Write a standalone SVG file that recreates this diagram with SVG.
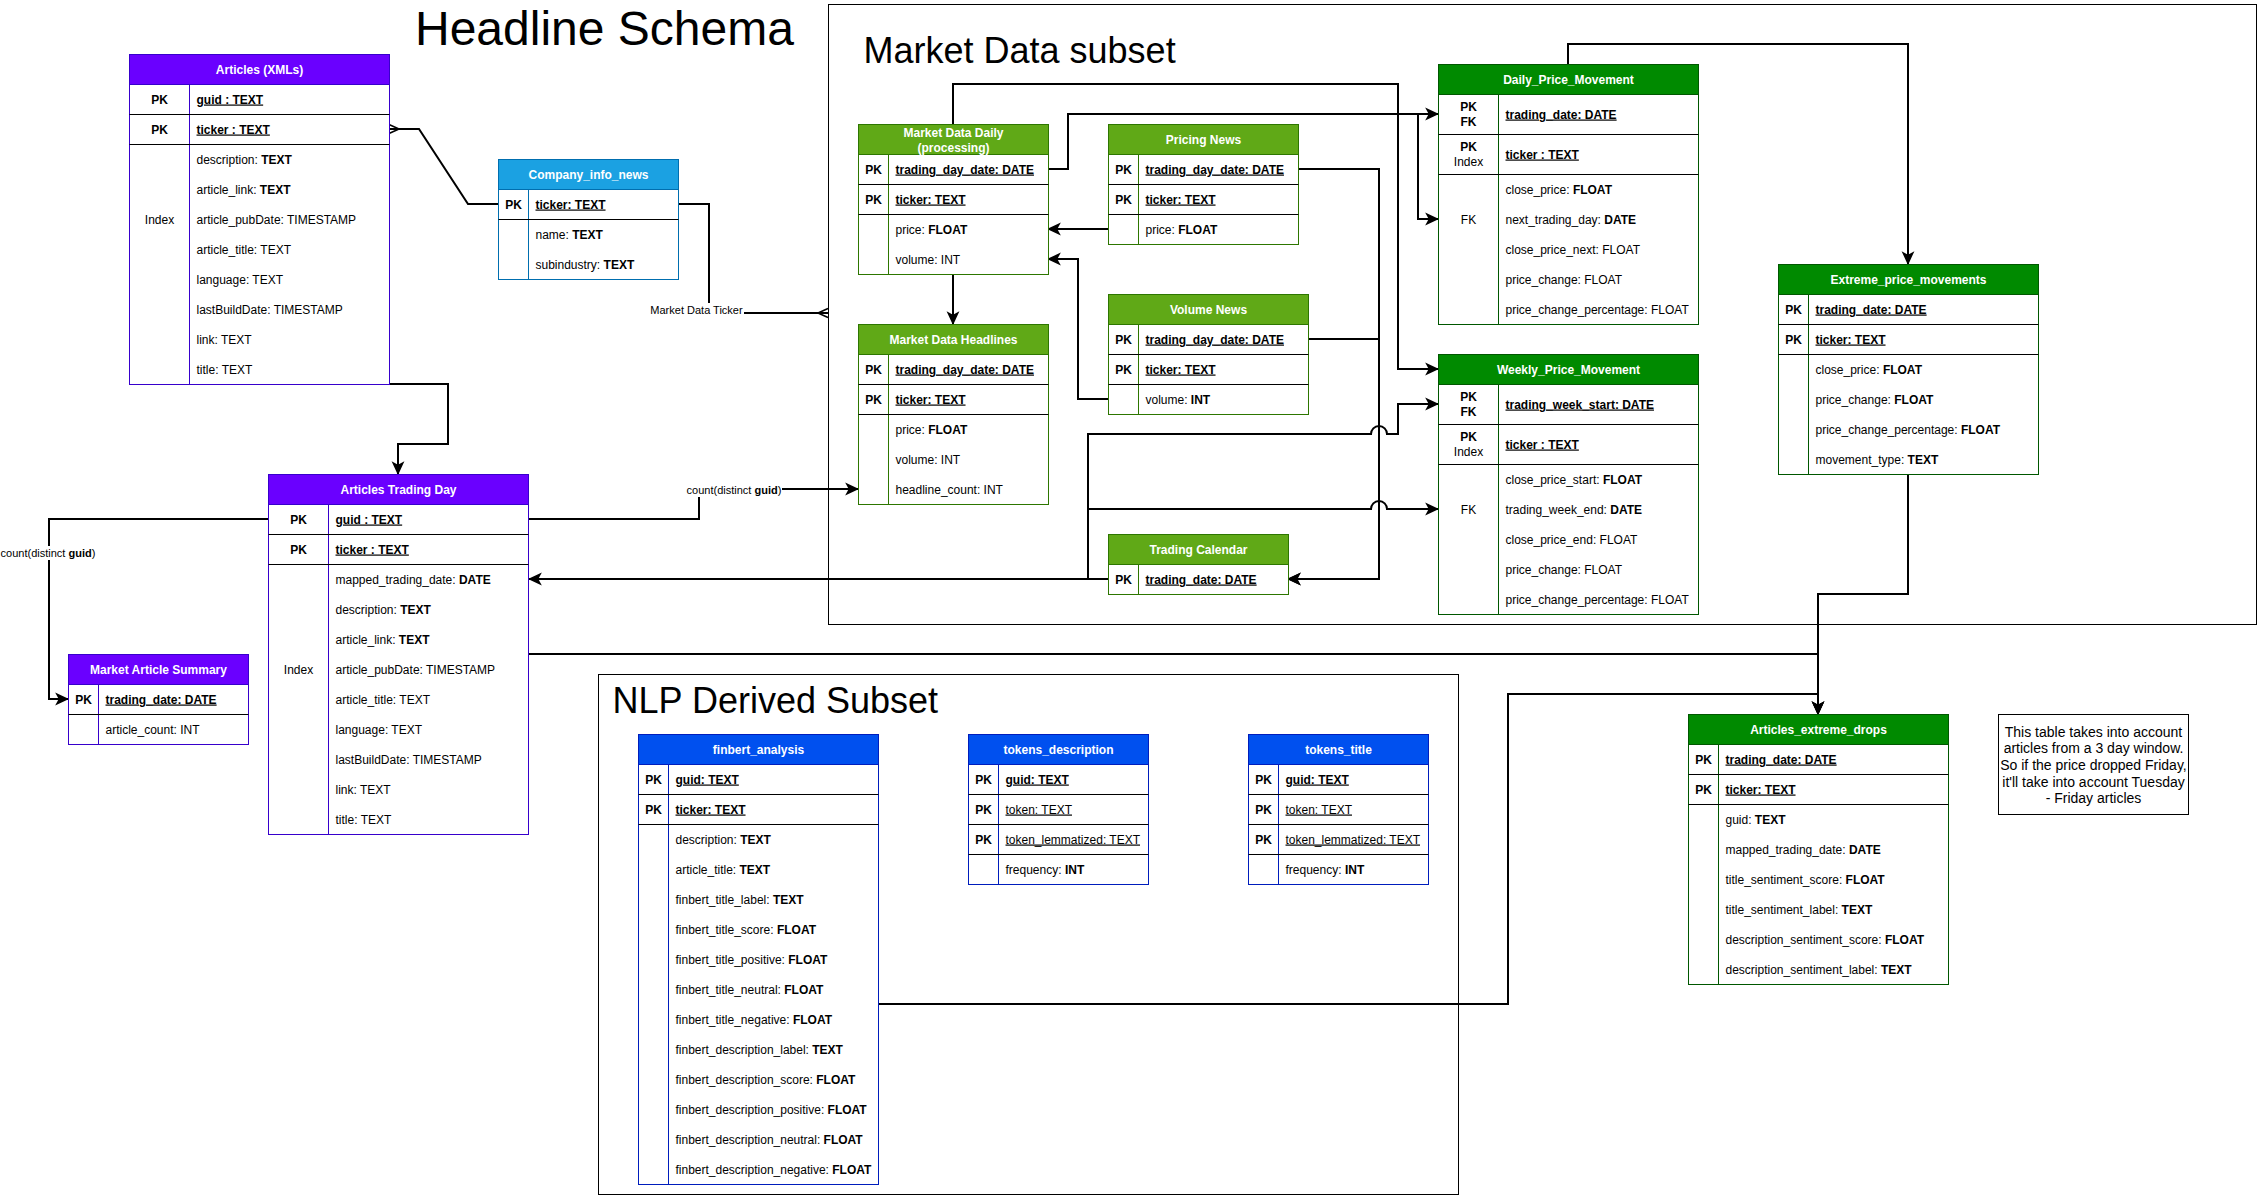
<svg xmlns="http://www.w3.org/2000/svg" width="2260" height="1195" viewBox="0 0 2260 1195" font-family="'Liberation Sans', Arial, sans-serif">
<style>
text{font-size:12px;fill:#000}
.h{font-weight:bold;fill:#fff;text-anchor:middle}
.c{text-anchor:middle}
.pk{font-weight:bold;text-decoration:underline}
.u{text-decoration:underline}
.b{font-weight:bold}
.sep{stroke:#000;stroke-width:1;fill:none}
.e{fill:none;stroke:#000;stroke-width:2}
.lbl{font-size:11px;text-anchor:middle}
.title{font-size:36px}
.note{font-size:14px;text-anchor:middle}
.box{fill:#fff}
.vi{stroke:#3700CC}
.vih{fill:#6a00ff;stroke:#3700CC}
.gr{stroke:#2D7600}
.grh{fill:#60a917;stroke:#2D7600}
.dg{stroke:#005700}
.dgh{fill:#008a00;stroke:#005700}
.bl{stroke:#001DBC}
.blh{fill:#0050ef;stroke:#001DBC}
.lb{stroke:#006EAF}
.lbh{fill:#1ba1e2;stroke:#006EAF}
.cont{fill:none;stroke:#000;stroke-width:1}
</style>
<defs>
<marker id="arr" markerUnits="userSpaceOnUse" markerWidth="14" markerHeight="14" viewBox="0 0 12 12" refX="11" refY="6" orient="auto"><path d="M0,0.5 L12,6 L0,11.5 L3,6 Z" fill="#000"/></marker>
<marker id="many" markerUnits="userSpaceOnUse" markerWidth="12" markerHeight="12" viewBox="0 0 10 12" refX="10" refY="6" orient="auto"><path d="M0,6 L10,1.5 M0,6 L10,10.5 M0,6 H10" fill="none" stroke="#000" stroke-width="1.5"/></marker>
</defs>
<rect width="2260" height="1195" fill="#fff"/>

<g id="titles">
<text x="415" y="45" style="font-size:48px">Headline Schema</text>
</g>

<g id="containers" transform="translate(0.5 0.5)">
<g id="market-data-subset"><rect class="cont" x="828" y="4" width="1428" height="620"/><text class="title" x="863" y="62">Market Data subset</text></g>
<g id="nlp-derived-subset"><rect class="cont" x="598" y="674" width="860" height="520"/><text class="title" x="612" y="712">NLP Derived Subset</text></g>
</g>

<g id="connectors">
<path id="e1" class="e" d="M498,204 H468 L419,129 H389" marker-end="url(#many)"/>
<path id="e2" class="e" d="M678,204 H709 V313 H828" marker-end="url(#many)"/>
<path id="e3" class="e" d="M389,384 H448 V444 H398 V474" marker-end="url(#arr)"/>
<path id="e4" class="e" d="M268,519 H49 V699 H68" marker-end="url(#arr)"/>
<path id="e5" class="e" d="M529,519 H699 V489 H858" marker-end="url(#arr)"/>
<path id="e6" class="e" d="M1108,579 H529" marker-end="url(#arr)"/>
<path id="e7" class="e" d="M1108,579 H1088 V434 H1371 A8,8 0 0 1 1387,434 H1398 V404 H1438" marker-end="url(#arr)"/>
<path id="e8" class="e" d="M1108,579 H1088 V509 H1371 A8,8 0 0 1 1387,509 H1438" marker-end="url(#arr)"/>
<path id="e9" class="e" d="M1298,169 H1379 V579 H1288" marker-end="url(#arr)"/>
<path id="e10" class="e" d="M1308,339 H1379 V579 H1288" marker-end="url(#arr)"/>
<path id="e11" class="e" d="M1108,229 H1048" marker-end="url(#arr)"/>
<path id="e12" class="e" d="M1108,399 H1078 V259 H1048" marker-end="url(#arr)"/>
<path id="e13" class="e" d="M953,274 V324" marker-end="url(#arr)"/>
<path id="e14" class="e" d="M953,124 V84 H1398 V369 H1438" marker-end="url(#arr)"/>
<path id="e15" class="e" d="M1048,169 H1068 V114 H1438" marker-end="url(#arr)"/>
<path id="e16" class="e" d="M1048,169 H1068 V114 H1418 V219 H1438" marker-end="url(#arr)"/>
<path id="e17" class="e" d="M1568,64 V44 H1908 V264" marker-end="url(#arr)"/>
<path id="e18" class="e" d="M1908,474 V594 H1818 V714" marker-end="url(#arr)"/>
<path id="e19" class="e" d="M529,654 H1818 V714" marker-end="url(#arr)"/>
<path id="e20" class="e" d="M879,1004 H1508 V694 H1818 V714" marker-end="url(#arr)"/>
<g id="edge-labels">
<rect class="box" x="649" y="303" width="95" height="14"/><text class="lbl" x="696.5" y="314">Market Data Ticker</text>
<rect class="box" x="0" y="546" width="96" height="14"/><text class="lbl" x="48" y="557">count(distinct <tspan class="b">guid</tspan>)</text>
<rect class="box" x="686" y="483" width="96" height="14"/><text class="lbl" x="734" y="494">count(distinct <tspan class="b">guid</tspan>)</text>
</g>
</g>

<g id="nodes" transform="translate(0.5 0.5)">

<g id="articles-xmls">
<rect class="box vi" x="129" y="54" width="260" height="330"/>
<rect class="vih" x="129" y="54" width="260" height="30"/>
<line class="vi" x1="189" y1="84" x2="189" y2="384"/>
<path class="sep" d="M129,114H389M129,144H389"/>
<text class="h" x="259" y="73">Articles (XMLs)</text>
<text class="c b" x="159" y="103">PK</text><text class="pk" x="196" y="103">guid : TEXT</text>
<text class="c b" x="159" y="133">PK</text><text class="pk" x="196" y="133">ticker : TEXT</text>
<text class="c" x="159" y="223">Index</text>
<text x="196" y="163">description: <tspan class="b">TEXT</tspan></text>
<text x="196" y="193">article_link: <tspan class="b">TEXT</tspan></text>
<text x="196" y="223">article_pubDate: TIMESTAMP</text>
<text x="196" y="253">article_title: TEXT</text>
<text x="196" y="283">language: TEXT</text>
<text x="196" y="313">lastBuildDate: TIMESTAMP</text>
<text x="196" y="343">link: TEXT</text>
<text x="196" y="373">title: TEXT</text>
</g>

<g id="company-info-news">
<rect class="box lb" x="498" y="159" width="180" height="120"/>
<rect class="lbh" x="498" y="159" width="180" height="30"/>
<line class="lb" x1="528" y1="189" x2="528" y2="279"/>
<path class="sep" d="M498,219H678"/>
<text class="h" x="588" y="178">Company_info_news</text>
<text class="c b" x="513" y="208">PK</text><text class="pk" x="535" y="208">ticker: TEXT</text>
<text x="535" y="238">name: <tspan class="b">TEXT</tspan></text>
<text x="535" y="268">subindustry: <tspan class="b">TEXT</tspan></text>
</g>

<g id="articles-trading-day">
<rect class="box vi" x="268" y="474" width="260" height="360"/>
<rect class="vih" x="268" y="474" width="260" height="30"/>
<line class="vi" x1="328" y1="504" x2="328" y2="834"/>
<path class="sep" d="M268,534H528M268,564H528"/>
<text class="h" x="398" y="493">Articles Trading Day</text>
<text class="c b" x="298" y="523">PK</text><text class="pk" x="335" y="523">guid : TEXT</text>
<text class="c b" x="298" y="553">PK</text><text class="pk" x="335" y="553">ticker : TEXT</text>
<text class="c" x="298" y="673">Index</text>
<text x="335" y="583">mapped_trading_date: <tspan class="b">DATE</tspan></text>
<text x="335" y="613">description: <tspan class="b">TEXT</tspan></text>
<text x="335" y="643">article_link: <tspan class="b">TEXT</tspan></text>
<text x="335" y="673">article_pubDate: TIMESTAMP</text>
<text x="335" y="703">article_title: TEXT</text>
<text x="335" y="733">language: TEXT</text>
<text x="335" y="763">lastBuildDate: TIMESTAMP</text>
<text x="335" y="793">link: TEXT</text>
<text x="335" y="823">title: TEXT</text>
</g>

<g id="market-article-summary">
<rect class="box vi" x="68" y="654" width="180" height="90"/>
<rect class="vih" x="68" y="654" width="180" height="30"/>
<line class="vi" x1="98" y1="684" x2="98" y2="744"/>
<path class="sep" d="M68,714H248"/>
<text class="h" x="158" y="673">Market Article Summary</text>
<text class="c b" x="83" y="703">PK</text><text class="pk" x="105" y="703">trading_date: DATE</text>
<text x="105" y="733">article_count: INT</text>
</g>

<g id="market-data-daily">
<rect class="box gr" x="858" y="124" width="190" height="150"/>
<rect class="grh" x="858" y="124" width="190" height="30"/>
<line class="gr" x1="888" y1="154" x2="888" y2="274"/>
<path class="sep" d="M858,184H1048M858,214H1048"/>
<text class="h" x="953" y="136">Market Data Daily</text>
<text class="h" x="953" y="151">(processing)</text>
<text class="c b" x="873" y="173">PK</text><text class="pk" x="895" y="173">trading_day_date: DATE</text>
<text class="c b" x="873" y="203">PK</text><text class="pk" x="895" y="203">ticker: TEXT</text>
<text x="895" y="233">price: <tspan class="b">FLOAT</tspan></text>
<text x="895" y="263">volume: INT</text>
</g>

<g id="market-data-headlines">
<rect class="box gr" x="858" y="324" width="190" height="180"/>
<rect class="grh" x="858" y="324" width="190" height="30"/>
<line class="gr" x1="888" y1="354" x2="888" y2="504"/>
<path class="sep" d="M858,384H1048M858,414H1048"/>
<text class="h" x="953" y="343">Market Data Headlines</text>
<text class="c b" x="873" y="373">PK</text><text class="pk" x="895" y="373">trading_day_date: DATE</text>
<text class="c b" x="873" y="403">PK</text><text class="pk" x="895" y="403">ticker: TEXT</text>
<text x="895" y="433">price: <tspan class="b">FLOAT</tspan></text>
<text x="895" y="463">volume: INT</text>
<text x="895" y="493">headline_count: INT</text>
</g>

<g id="pricing-news">
<rect class="box gr" x="1108" y="124" width="190" height="120"/>
<rect class="grh" x="1108" y="124" width="190" height="30"/>
<line class="gr" x1="1138" y1="154" x2="1138" y2="244"/>
<path class="sep" d="M1108,184H1298M1108,214H1298"/>
<text class="h" x="1203" y="143">Pricing News</text>
<text class="c b" x="1123" y="173">PK</text><text class="pk" x="1145" y="173">trading_day_date: DATE</text>
<text class="c b" x="1123" y="203">PK</text><text class="pk" x="1145" y="203">ticker: TEXT</text>
<text x="1145" y="233">price: <tspan class="b">FLOAT</tspan></text>
</g>

<g id="volume-news">
<rect class="box gr" x="1108" y="294" width="200" height="120"/>
<rect class="grh" x="1108" y="294" width="200" height="30"/>
<line class="gr" x1="1138" y1="324" x2="1138" y2="414"/>
<path class="sep" d="M1108,354H1308M1108,384H1308"/>
<text class="h" x="1208" y="313">Volume News</text>
<text class="c b" x="1123" y="343">PK</text><text class="pk" x="1145" y="343">trading_day_date: DATE</text>
<text class="c b" x="1123" y="373">PK</text><text class="pk" x="1145" y="373">ticker: TEXT</text>
<text x="1145" y="403">volume: <tspan class="b">INT</tspan></text>
</g>

<g id="trading-calendar">
<rect class="box gr" x="1108" y="534" width="180" height="60"/>
<rect class="grh" x="1108" y="534" width="180" height="30"/>
<line class="gr" x1="1138" y1="564" x2="1138" y2="594"/>
<text class="h" x="1198" y="553">Trading Calendar</text>
<text class="c b" x="1123" y="583">PK</text><text class="pk" x="1145" y="583">trading_date: DATE</text>
</g>

<g id="daily-price-movement">
<rect class="box dg" x="1438" y="64" width="260" height="260"/>
<rect class="dgh" x="1438" y="64" width="260" height="30"/>
<line class="dg" x1="1498" y1="94" x2="1498" y2="324"/>
<path class="sep" d="M1438,134H1698M1438,174H1698"/>
<text class="h" x="1568" y="83">Daily_Price_Movement</text>
<text class="c b" x="1468" y="110.5">PK</text><text class="c b" x="1468" y="125.5">FK</text><text class="pk" x="1505" y="118">trading_date: DATE</text>
<text class="c b" x="1468" y="150.5">PK</text><text class="c" x="1468" y="165.5">Index</text><text class="pk" x="1505" y="158">ticker : TEXT</text>
<text class="c" x="1468" y="223">FK</text>
<text x="1505" y="193">close_price: <tspan class="b">FLOAT</tspan></text>
<text x="1505" y="223">next_trading_day: <tspan class="b">DATE</tspan></text>
<text x="1505" y="253">close_price_next: FLOAT</text>
<text x="1505" y="283">price_change: FLOAT</text>
<text x="1505" y="313">price_change_percentage: FLOAT</text>
</g>

<g id="weekly-price-movement">
<rect class="box dg" x="1438" y="354" width="260" height="260"/>
<rect class="dgh" x="1438" y="354" width="260" height="30"/>
<line class="dg" x1="1498" y1="384" x2="1498" y2="614"/>
<path class="sep" d="M1438,424H1698M1438,464H1698"/>
<text class="h" x="1568" y="373">Weekly_Price_Movement</text>
<text class="c b" x="1468" y="400.5">PK</text><text class="c b" x="1468" y="415.5">FK</text><text class="pk" x="1505" y="408">trading_week_start: DATE</text>
<text class="c b" x="1468" y="440.5">PK</text><text class="c" x="1468" y="455.5">Index</text><text class="pk" x="1505" y="448">ticker : TEXT</text>
<text class="c" x="1468" y="513">FK</text>
<text x="1505" y="483">close_price_start: <tspan class="b">FLOAT</tspan></text>
<text x="1505" y="513">trading_week_end: <tspan class="b">DATE</tspan></text>
<text x="1505" y="543">close_price_end: FLOAT</text>
<text x="1505" y="573">price_change: FLOAT</text>
<text x="1505" y="603">price_change_percentage: FLOAT</text>
</g>

<g id="extreme-price-movements">
<rect class="box dg" x="1778" y="264" width="260" height="210"/>
<rect class="dgh" x="1778" y="264" width="260" height="30"/>
<line class="dg" x1="1808" y1="294" x2="1808" y2="474"/>
<path class="sep" d="M1778,324H2038M1778,354H2038"/>
<text class="h" x="1908" y="283">Extreme_price_movements</text>
<text class="c b" x="1793" y="313">PK</text><text class="pk" x="1815" y="313">trading_date: DATE</text>
<text class="c b" x="1793" y="343">PK</text><text class="pk" x="1815" y="343">ticker: TEXT</text>
<text x="1815" y="373">close_price: <tspan class="b">FLOAT</tspan></text>
<text x="1815" y="403">price_change: <tspan class="b">FLOAT</tspan></text>
<text x="1815" y="433">price_change_percentage: <tspan class="b">FLOAT</tspan></text>
<text x="1815" y="463">movement_type: <tspan class="b">TEXT</tspan></text>
</g>

<g id="articles-extreme-drops">
<rect class="box dg" x="1688" y="714" width="260" height="270"/>
<rect class="dgh" x="1688" y="714" width="260" height="30"/>
<line class="dg" x1="1718" y1="744" x2="1718" y2="984"/>
<path class="sep" d="M1688,774H1948M1688,804H1948"/>
<text class="h" x="1818" y="733">Articles_extreme_drops</text>
<text class="c b" x="1703" y="763">PK</text><text class="pk" x="1725" y="763">trading_date: DATE</text>
<text class="c b" x="1703" y="793">PK</text><text class="pk" x="1725" y="793">ticker: TEXT</text>
<text x="1725" y="823">guid: <tspan class="b">TEXT</tspan></text>
<text x="1725" y="853">mapped_trading_date: <tspan class="b">DATE</tspan></text>
<text x="1725" y="883">title_sentiment_score: <tspan class="b">FLOAT</tspan></text>
<text x="1725" y="913">title_sentiment_label: <tspan class="b">TEXT</tspan></text>
<text x="1725" y="943">description_sentiment_score: <tspan class="b">FLOAT</tspan></text>
<text x="1725" y="973">description_sentiment_label: <tspan class="b">TEXT</tspan></text>
</g>

<g id="finbert-analysis">
<rect class="box bl" x="638" y="734" width="240" height="450"/>
<rect class="blh" x="638" y="734" width="240" height="30"/>
<line class="bl" x1="668" y1="764" x2="668" y2="1184"/>
<path class="sep" d="M638,794H878M638,824H878"/>
<text class="h" x="758" y="753">finbert_analysis</text>
<text class="c b" x="653" y="783">PK</text><text class="pk" x="675" y="783">guid: TEXT</text>
<text class="c b" x="653" y="813">PK</text><text class="pk" x="675" y="813">ticker: TEXT</text>
<text x="675" y="843">description: <tspan class="b">TEXT</tspan></text>
<text x="675" y="873">article_title: <tspan class="b">TEXT</tspan></text>
<text x="675" y="903">finbert_title_label: <tspan class="b">TEXT</tspan></text>
<text x="675" y="933">finbert_title_score: <tspan class="b">FLOAT</tspan></text>
<text x="675" y="963">finbert_title_positive: <tspan class="b">FLOAT</tspan></text>
<text x="675" y="993">finbert_title_neutral: <tspan class="b">FLOAT</tspan></text>
<text x="675" y="1023">finbert_title_negative: <tspan class="b">FLOAT</tspan></text>
<text x="675" y="1053">finbert_description_label: <tspan class="b">TEXT</tspan></text>
<text x="675" y="1083">finbert_description_score: <tspan class="b">FLOAT</tspan></text>
<text x="675" y="1113">finbert_description_positive: <tspan class="b">FLOAT</tspan></text>
<text x="675" y="1143">finbert_description_neutral: <tspan class="b">FLOAT</tspan></text>
<text x="675" y="1173">finbert_description_negative: <tspan class="b">FLOAT</tspan></text>
</g>

<g id="tokens-description">
<rect class="box bl" x="968" y="734" width="180" height="150"/>
<rect class="blh" x="968" y="734" width="180" height="30"/>
<line class="bl" x1="998" y1="764" x2="998" y2="884"/>
<path class="sep" d="M968,794H1148M968,824H1148M968,854H1148"/>
<text class="h" x="1058" y="753">tokens_description</text>
<text class="c b" x="983" y="783">PK</text><text class="pk" x="1005" y="783">guid: TEXT</text>
<text class="c b" x="983" y="813">PK</text><text class="u" x="1005" y="813">token: TEXT</text>
<text class="c b" x="983" y="843">PK</text><text class="u" x="1005" y="843">token_lemmatized: TEXT</text>
<text x="1005" y="873">frequency: <tspan class="b">INT</tspan></text>
</g>

<g id="tokens-title">
<rect class="box bl" x="1248" y="734" width="180" height="150"/>
<rect class="blh" x="1248" y="734" width="180" height="30"/>
<line class="bl" x1="1278" y1="764" x2="1278" y2="884"/>
<path class="sep" d="M1248,794H1428M1248,824H1428M1248,854H1428"/>
<text class="h" x="1338" y="753">tokens_title</text>
<text class="c b" x="1263" y="783">PK</text><text class="pk" x="1285" y="783">guid: TEXT</text>
<text class="c b" x="1263" y="813">PK</text><text class="u" x="1285" y="813">token: TEXT</text>
<text class="c b" x="1263" y="843">PK</text><text class="u" x="1285" y="843">token_lemmatized: TEXT</text>
<text x="1285" y="873">frequency: <tspan class="b">INT</tspan></text>
</g>

<g id="note">
<rect class="box" x="1998" y="714" width="190" height="100" stroke="#000"/>
<text class="note" x="2093" y="736">This table takes into account</text>
<text class="note" x="2093" y="752.7">articles from a 3 day window.</text>
<text class="note" x="2093" y="769.3">So if the price dropped Friday,</text>
<text class="note" x="2093" y="786">it'll take into account Tuesday</text>
<text class="note" x="2093" y="802.7">- Friday articles</text>
</g>

</g>
</svg>
